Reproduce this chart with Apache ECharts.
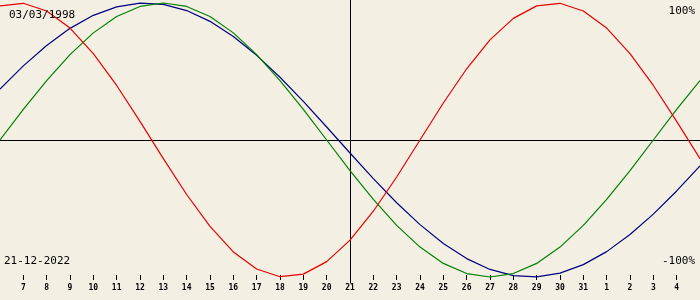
<!DOCTYPE html>
<html>
<head>
<meta charset="utf-8">
<script src="https://cdn.jsdelivr.net/npm/echarts@6/dist/echarts.min.js"></script>
<style>
html,body{margin:0;padding:0;background:#f3efe3;}
#c{width:700px;height:300px;}
</style>
</head>
<body>
<div id="c"></div>
<script>
// Days shown: 6 Dec 2022 .. 5 Jan 2023, centred on 21 Dec 2022
const dayLabels = ['6','7','8','9','10','11','12','13','14','15','16','17','18','19','20','21','22','23','24','25','26','27','28','29','30','31','1','2','3','4','5'];
const dayOffsets = [-15,-14,-13,-12,-11,-10,-9,-8,-7,-6,-5,-4,-3,-2,-1,0,1,2,3,4,5,6,7,8,9,10,11,12,13,14,15];
const tickOffsets = [-14,-13,-12,-11,-10,-9,-8,-7,-6,-5,-4,-3,-2,-1,0,1,2,3,4,5,6,7,8,9,10,11,12,13,14];

// values in percent
const physical = [97.9,99.8,94.2,81.7,63.1,39.8,13.6,-13.6,-39.8,-63.1,-81.7,-94.2,-99.8,-97.9,-88.8,-73.1,-52.0,-27.0,0,27.0,52.0,73.1,88.8,97.9,99.8,94.2,81.7,63.1,39.8,13.6,-13.6];
const emotional = [0,22.3,43.4,62.3,78.2,90.1,97.5,100,97.5,90.1,78.2,62.3,43.4,22.3,0,-22.3,-43.4,-62.3,-78.2,-90.1,-97.5,-100,-97.5,-90.1,-78.2,-62.3,-43.4,-22.3,0,22.3,43.4];
const intellectual = [37.2,54.1,69.0,81.5,91.0,97.2,99.9,99.0,94.5,86.6,75.6,61.8,45.8,28.2,9.5,-9.5,-28.2,-45.8,-61.8,-75.6,-86.6,-94.5,-99.0,-99.9,-97.2,-91.0,-81.5,-69.0,-54.1,-37.2,-18.9];

const birthText = '03/03/1998';
const dateText = '21-12-2022';
const topText = '100%';
const bottomText = '-100%';

function pairs(vals){ return vals.map((v,i)=>[dayOffsets[i], v]); }

const chart = echarts.init(document.getElementById('c'), null, {renderer:'canvas'});
const mono = 'DejaVu Sans Mono';
chart.setOption({
  animation:false,
  backgroundColor:'#f3efe3',
  grid:{left:0,right:0,top:0,bottom:17,containLabel:false},
  title:[
    {text:birthText,left:9,top:10,textStyle:{fontFamily:mono,fontSize:11,fontWeight:'normal',color:'#000'},padding:0},
    {text:topText,right:5,top:6,textStyle:{fontFamily:mono,fontSize:11,fontWeight:'normal',color:'#000'},padding:0},
    {text:dateText,left:4,top:256,textStyle:{fontFamily:mono,fontSize:11,fontWeight:'normal',color:'#000'},padding:0},
    {text:bottomText,right:5,top:256,textStyle:{fontFamily:mono,fontSize:11,fontWeight:'normal',color:'#000'},padding:0}
  ],
  xAxis:[
    {type:'value',min:-15,max:15,interval:1,
     axisLine:{show:true,onZero:true,lineStyle:{color:'#000',width:1}},
     axisTick:{show:false},axisLabel:{show:false},splitLine:{show:false}},
    {type:'value',min:-15,max:15,interval:1,position:'bottom',offset:-3,
     axisLine:{show:false,onZero:false},
     axisTick:{show:true,inside:true,length:5,customValues:tickOffsets,lineStyle:{color:'#000',width:1}},
     axisLabel:{show:true,margin:4,customValues:tickOffsets,fontFamily:mono,fontSize:8,fontWeight:'bold',color:'#000',
       formatter:function(v){const i=dayOffsets.indexOf(v);return i>=0?dayLabels[i]:'';}},
     splitLine:{show:false}}
  ],
  yAxis:{type:'value',min:-104.4,max:102.2,
    axisLine:{show:true,onZero:true,onZeroAxisIndex:0,lineStyle:{color:'#000',width:1}},
    axisTick:{show:false},axisLabel:{show:false},splitLine:{show:false}},
  series:[
    {type:'line',name:'Intellectual',data:pairs(intellectual),showSymbol:false,symbol:'none',lineStyle:{color:'#000080',width:1.2},itemStyle:{color:'#000080'}},
    {type:'line',name:'Emotional',data:pairs(emotional),showSymbol:false,symbol:'none',lineStyle:{color:'#008000',width:1.2},itemStyle:{color:'#008000'}},
    {type:'line',name:'Physical',data:pairs(physical),showSymbol:false,symbol:'none',lineStyle:{color:'#e80000',width:1.2},itemStyle:{color:'#e80000'}}
  ]
});
</script>
</body>
</html>
